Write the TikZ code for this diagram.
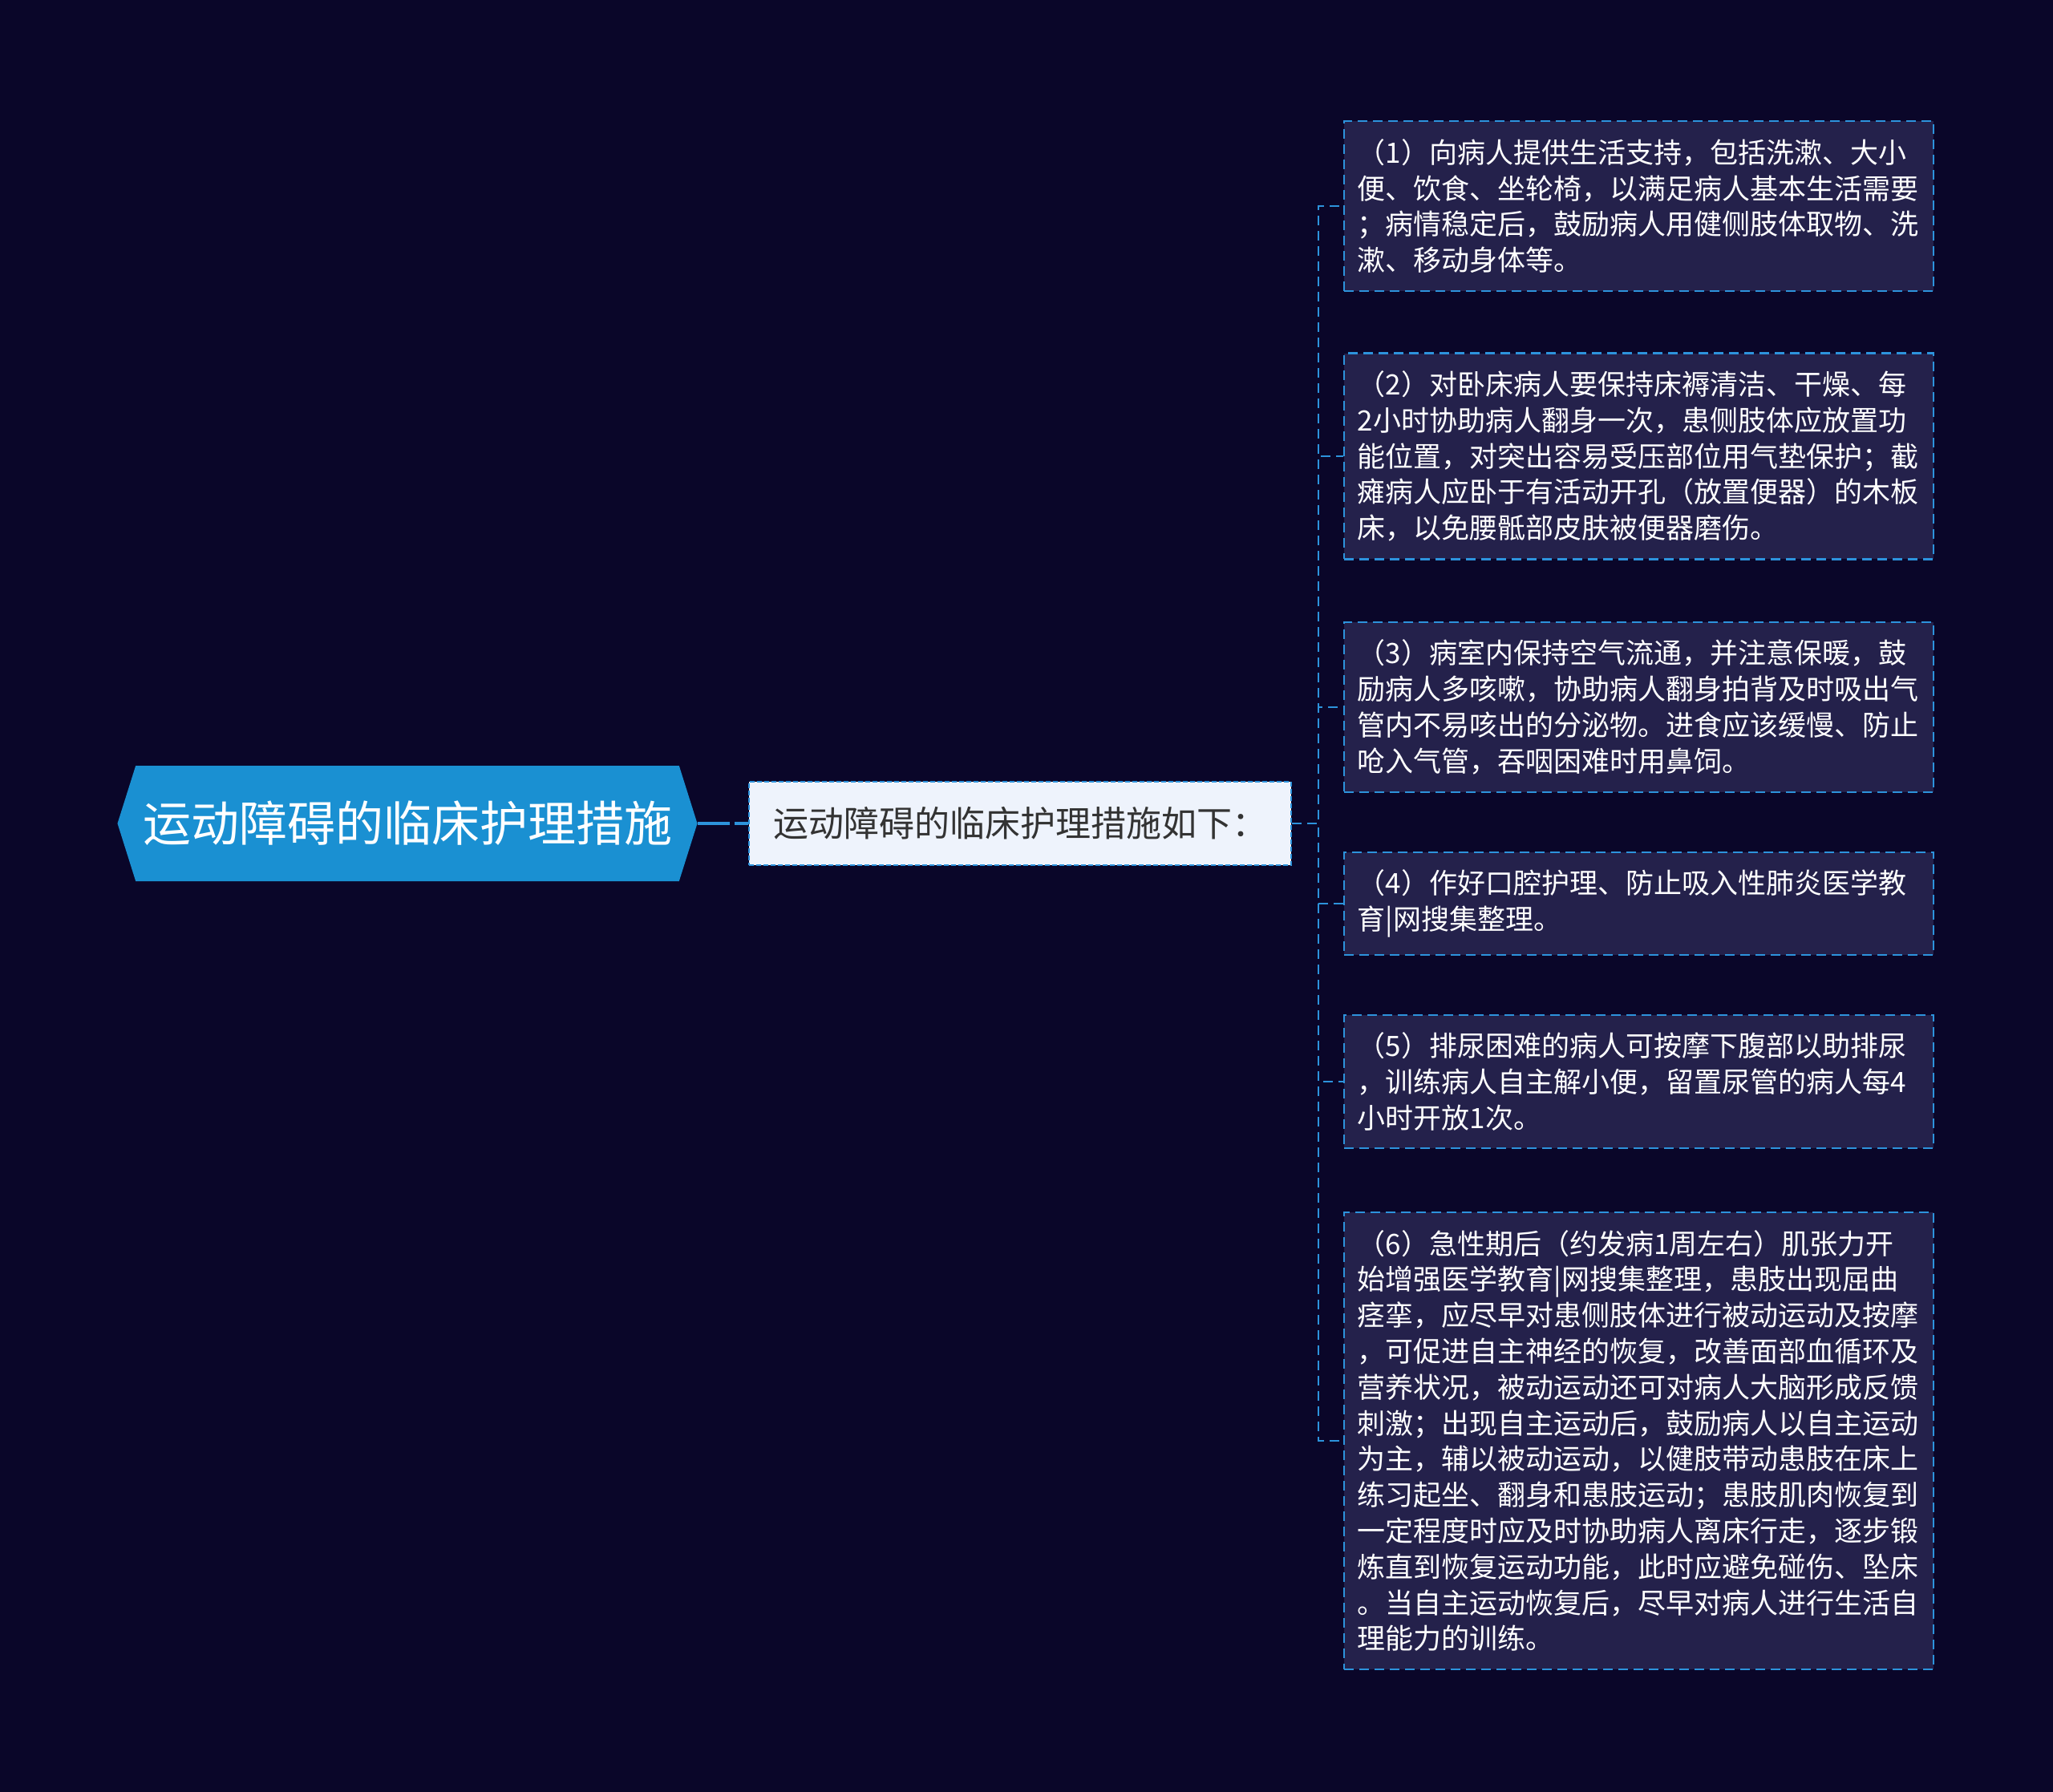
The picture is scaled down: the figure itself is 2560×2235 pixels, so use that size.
\documentclass[tikz,border=0pt]{standalone}
\usepackage{fontspec}
\setmainfont{Noto Sans CJK SC}
\usetikzlibrary{shapes.symbols}
\definecolor{bgnavy}{HTML}{0A0629}
\definecolor{boxfill}{HTML}{24214B}
\definecolor{linkblue}{HTML}{2D93DC}
\definecolor{rootblue}{HTML}{1A90D2}
\definecolor{subfill}{HTML}{EEF3FC}
\tikzset{
  itembox/.style={draw=linkblue, line width=2.3pt, dash pattern=on 12pt off 7pt,
    fill=boxfill, text=white, font=\fontsize{35}{44.8}\selectfont,
    text width=702pt, align=left, inner xsep=16.5pt, inner ysep=22pt, anchor=west},
  link/.style={linkblue, line width=2.5pt, dash pattern=on 12pt off 7pt}
}
\begin{document}
\begin{tikzpicture}[x=1pt,y=-1pt]
\fill[bgnavy] (0,0) rectangle (2560,2235);
\useasboundingbox (0,0) rectangle (2560,2235);
% centre and main topic
\node[signal, signal to=west and east, signal pointer angle=145, fill=rootblue,
  minimum width=723pt, minimum height=144pt, inner sep=0pt, text=white,
  font=\fontsize{60}{70}\selectfont] (root) at (508,1027) {运动障碍的临床护理措施};
\node[draw=linkblue, line width=2pt, dash pattern=on 6pt off 3pt, fill=subfill,
  minimum width=676pt, minimum height=104pt, text=black!80,
  font=\fontsize{44}{52}\selectfont] (sub) at (1272,1027) {运动障碍的临床护理措施如下：};
% measures
\node[itembox] (m1) at (1675,257) {（1）向病人提供生活支持，包括洗漱、大小\\
便、饮食、坐轮椅，以满足病人基本生活需要\\
；病情稳定后，鼓励病人用健侧肢体取物、洗\\
漱、移动身体等。};
\node[itembox] (m2) at (1675,569) {（2）对卧床病人要保持床褥清洁、干燥、每\\
2小时协助病人翻身一次，患侧肢体应放置功\\
能位置，对突出容易受压部位用气垫保护；截\\
瘫病人应卧于有活动开孔（放置便器）的木板\\
床，以免腰骶部皮肤被便器磨伤。};
\node[itembox] (m3) at (1675,882) {（3）病室内保持空气流通，并注意保暖，鼓\\
励病人多咳嗽，协助病人翻身拍背及时吸出气\\
管内不易咳出的分泌物。进食应该缓慢、防止\\
呛入气管，吞咽困难时用鼻饲。};
\node[itembox] (m4) at (1675,1127) {（4）作好口腔护理、防止吸入性肺炎医学教\\
育|网搜集整理。};
\node[itembox] (m5) at (1675,1349) {（5）排尿困难的病人可按摩下腹部以助排尿\\
，训练病人自主解小便，留置尿管的病人每4\\
小时开放1次。};
\node[itembox] (m6) at (1675,1797) {（6）急性期后（约发病1周左右）肌张力开\\
始增强医学教育|网搜集整理，患肢出现屈曲\\
痉挛，应尽早对患侧肢体进行被动运动及按摩\\
，可促进自主神经的恢复，改善面部血循环及\\
营养状况，被动运动还可对病人大脑形成反馈\\
刺激；出现自主运动后，鼓励病人以自主运动\\
为主，辅以被动运动，以健肢带动患肢在床上\\
练习起坐、翻身和患肢运动；患肢肌肉恢复到\\
一定程度时应及时协助病人离床行走，逐步锻\\
炼直到恢复运动功能，此时应避免碰伤、坠床\\
。当自主运动恢复后，尽早对病人进行生活自\\
理能力的训练。};
% connectors
\draw[link, line width=3.5pt, dash pattern=on 40pt off 6pt] (root.east) -- (sub.west);
\foreach \m in {m1,m2,m3,m4,m5,m6}
  \draw[link] (sub.east) -- ++(33,0) |- (\m.west);
\end{tikzpicture}
\end{document}
